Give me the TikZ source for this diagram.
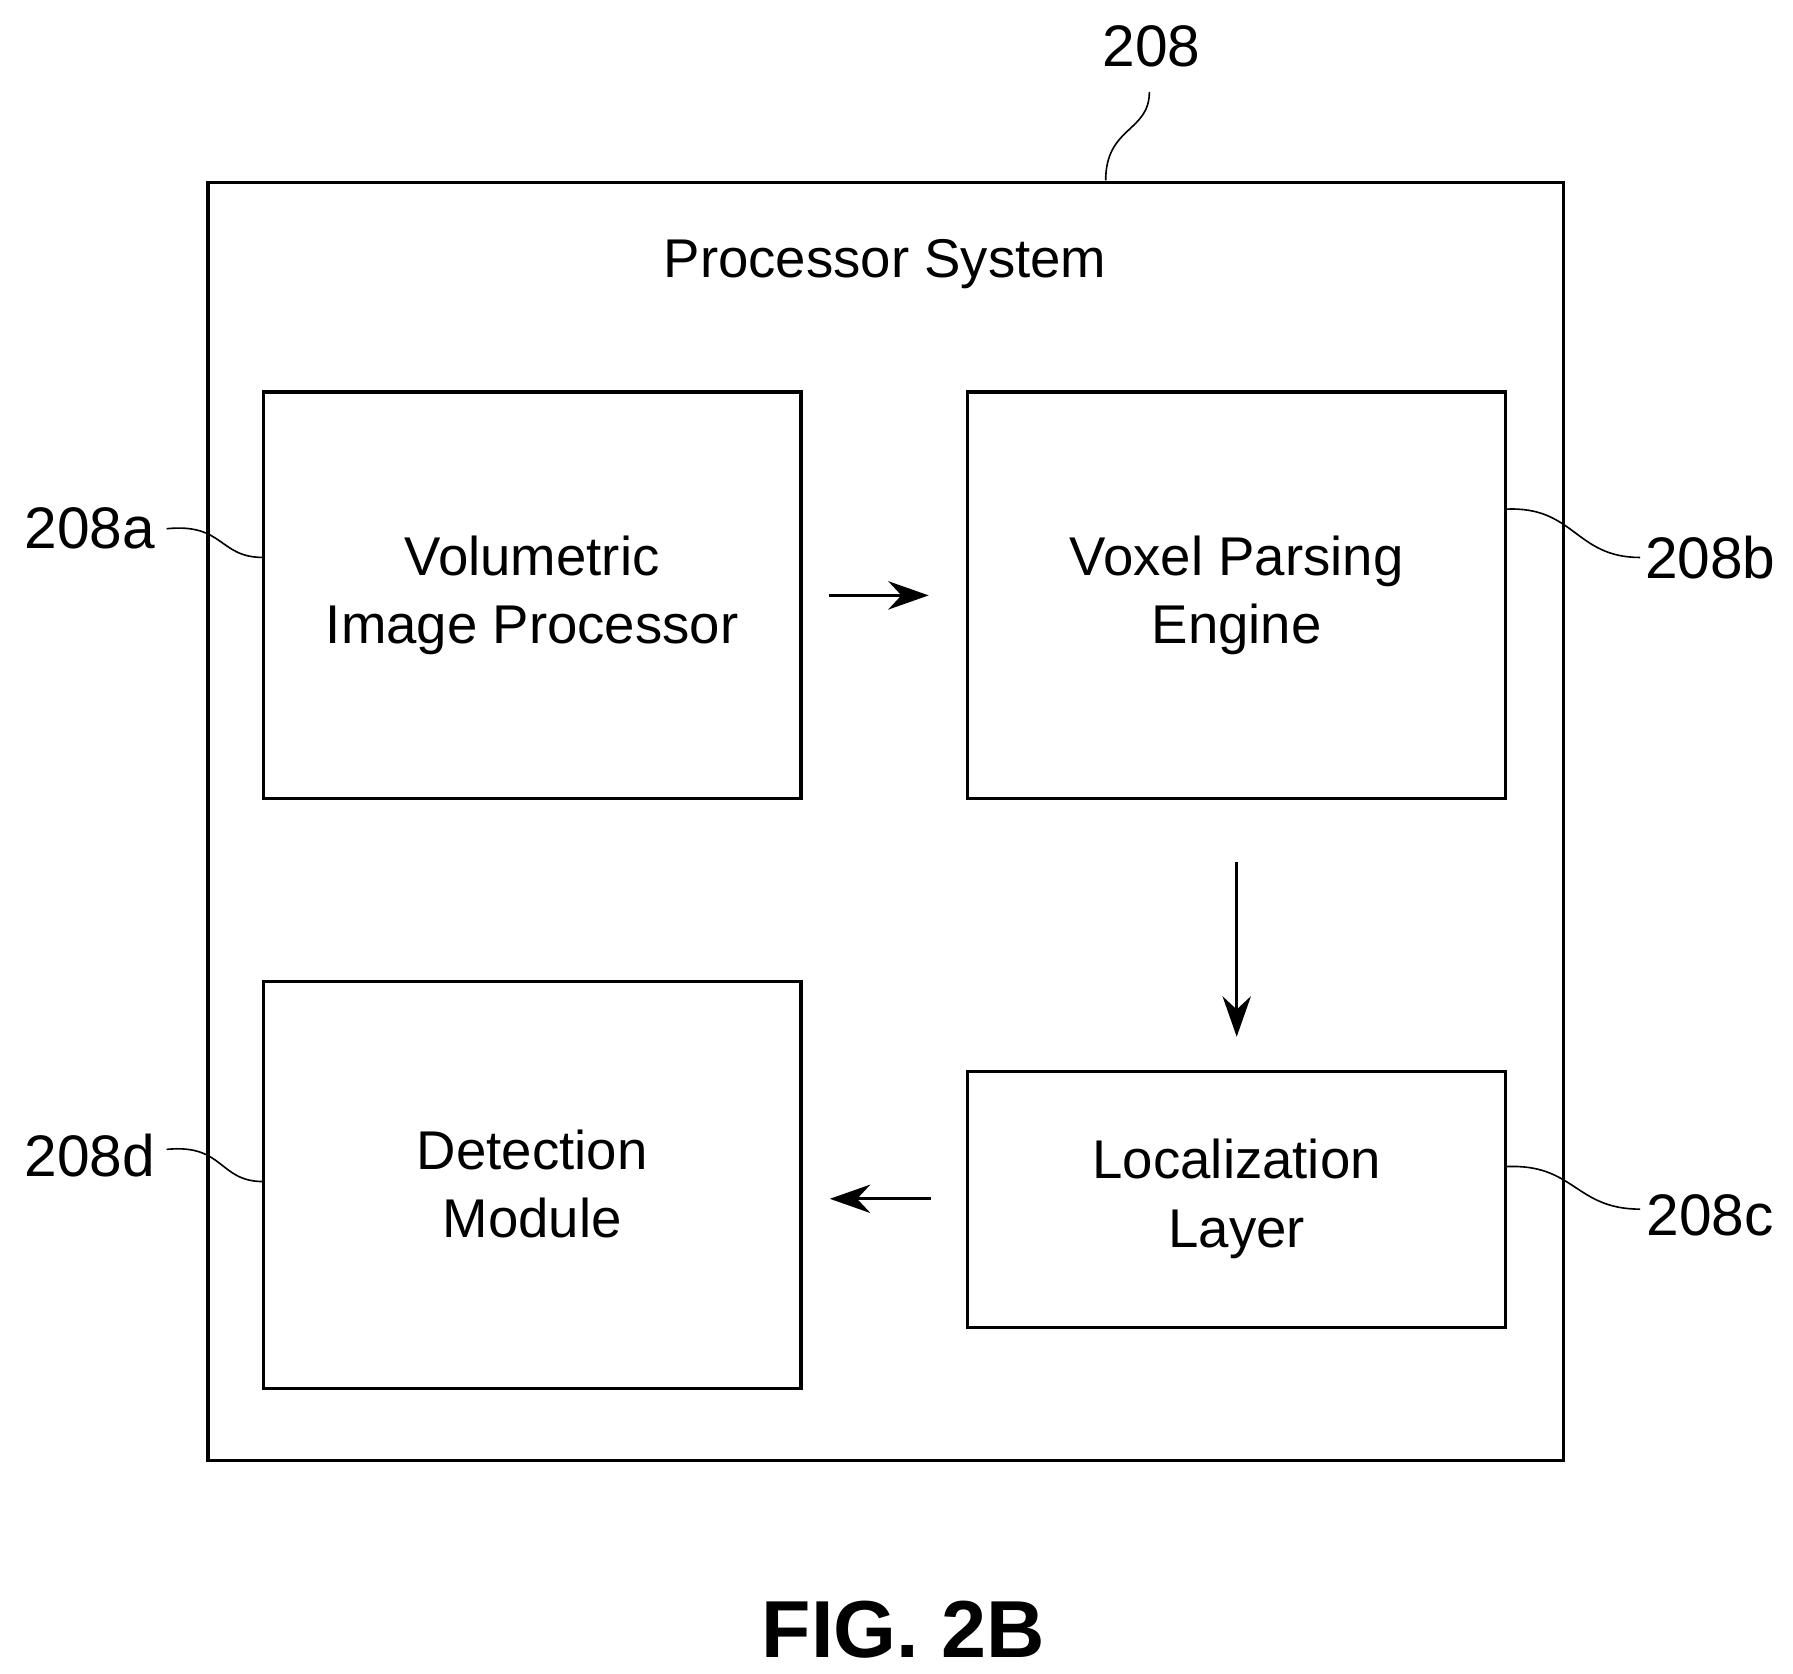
\documentclass[tikz,border=0pt]{standalone}
\usepackage{fontspec}
\setmainfont{Liberation Sans}
\usetikzlibrary{positioning,arrows.meta}
\begin{document}
\begin{tikzpicture}[x=0.01cm,y=-0.01cm]
    \tikzstyle{block} = [rectangle, inner sep=0pt, align=center,
      font=\fontsize{13.5}{17}\selectfont]
    \tikzstyle{line} = [draw, thick, -{Stealth[length=10pt,width=7pt]}]
    \tikzstyle{ref} = [font=\fontsize{14.5}{18}\selectfont]
    \useasboundingbox (0,0) rectangle (1560,1456);

    % Outer box
    \draw[thick] (181,159) rectangle (1360,1271);
    \node[font=\fontsize{13.5}{17}\selectfont] (title) at (770,230) {Processor System};

    % Inner blocks
    \draw[thick] (229,341) rectangle (697,695);
    \node[block] (vip) at (463,518) {Volumetric\\Image Processor};
    \draw[thick] (842,341) rectangle (1310,695);
    \node[block] (vpe) at (1076,518) {Voxel Parsing\\Engine};
    \draw[thick] (842,932) rectangle (1310,1155);
    \node[block] (loc) at (1076,1043) {Localization\\Layer};
    \draw[thick] (229,854) rectangle (697,1208);
    \node[block] (det) at (463,1030) {Detection\\Module};

    \coordinate (ab1) at (721,518);  \coordinate (ab2) at (808,518);
    \coordinate (bc1) at (1076,750); \coordinate (bc2) at (1076,902);
    \coordinate (cd1) at (810,1043); \coordinate (cd2) at (722,1043);
    \path[line] (ab1) -- (ab2);
    \path[line] (bc1) -- (bc2);
    \path[line] (cd1) -- (cd2);

    % Reference numerals
    \node[ref] (n208) at (1002,40) {208};
    \node[ref] (n208a) at (78,460) {208a};
    \node[ref] (n208b) at (1488,485) {208b};
    \node[ref] (n208c) at (1488,1057) {208c};
    \node[ref] (n208d) at (78,1005) {208d};
    \draw (962,157) .. controls (962,110) and (1000,115) .. (1000,80);
    \draw (145,460) .. controls (195,455) and (190,485) .. (229,485);
    \draw (1310,443) .. controls (1370,440) and (1370,485) .. (1427,485);
    \draw (1310,1015) .. controls (1370,1012) and (1370,1052) .. (1427,1052);
    \draw (145,1000) .. controls (195,995) and (190,1028) .. (229,1028);

    \node[font=\fontsize{20}{24}\bfseries] (fig) at (786,1418) {FIG. 2B};
\end{tikzpicture}
\end{document}
